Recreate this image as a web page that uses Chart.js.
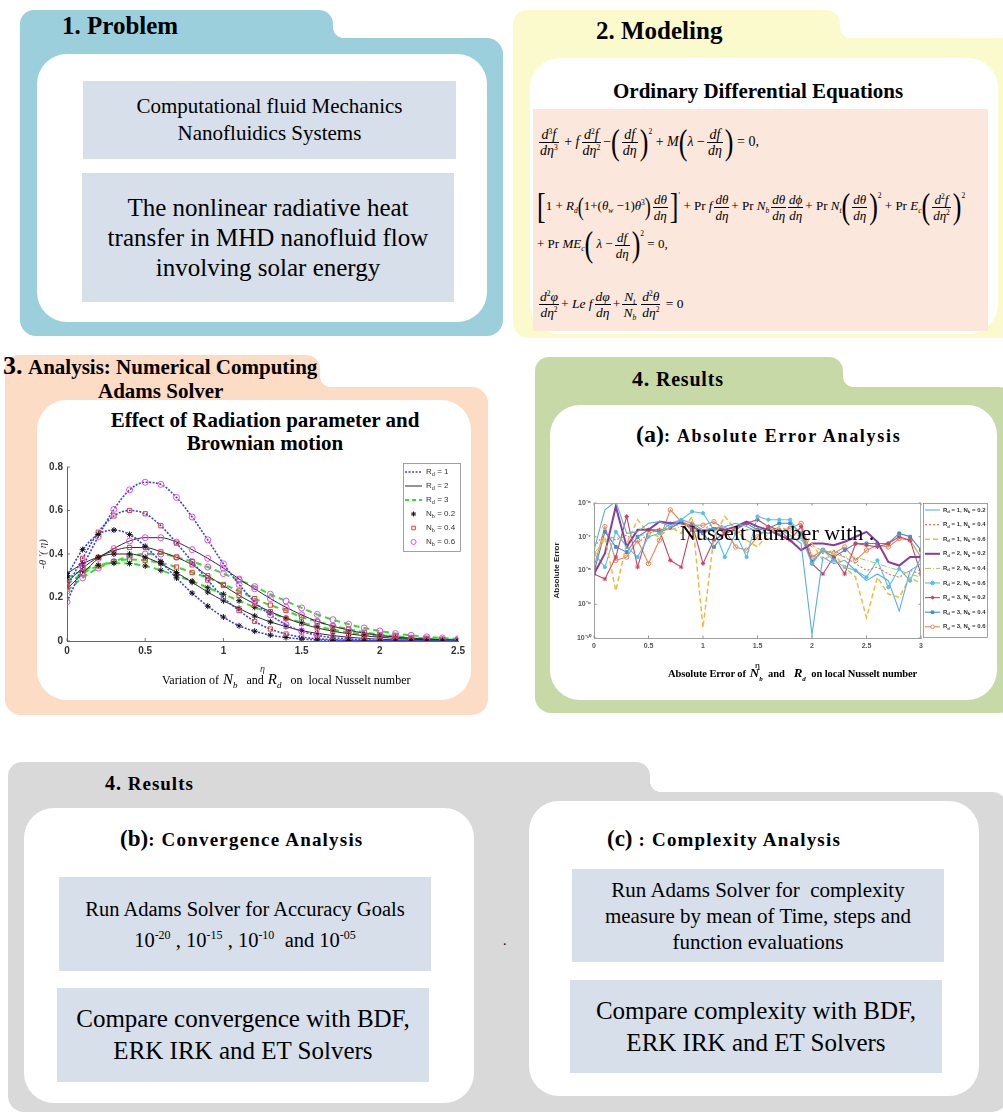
<!DOCTYPE html>
<html>
<head>
<meta charset="utf-8">
<script src="https://cdn.jsdelivr.net/npm/chart.js@4.4.1/dist/chart.umd.min.js"></script>
<style>
html,body{margin:0;padding:0}
body{width:1003px;height:1113px;position:relative;overflow:hidden;background:#fff;font-family:"Liberation Serif","Times New Roman",serif;color:#000}
.tab{position:absolute;border-radius:14px 14px 0 0}
.bd{position:absolute;border-radius:0 16px 16px 16px}
.fil{position:absolute;width:10px;height:10px}
.card{position:absolute;background:#fff;border-radius:30px}
.box{position:absolute;background:#D6DFEA;display:flex;align-items:center;justify-content:center;text-align:center}
.box>div{white-space:nowrap}
.h{position:absolute;font-weight:bold;white-space:nowrap;line-height:1.15}
.t{position:absolute;white-space:nowrap;line-height:1.15}
.eq{position:absolute;left:537px;height:44px;line-height:44px;font-size:13px;white-space:nowrap}
.fr{display:inline-block;vertical-align:middle;text-align:center;margin:0 2px;line-height:15px}
.fr>span{display:block;padding:0 1px}
.fr>span:first-child{border-bottom:0.9px solid #000}
.bp{display:inline-block;font-size:26px;transform:scaleY(1.35);vertical-align:middle;line-height:26px;font-weight:100}
.eq sup{font-size:7.5px;vertical-align:5px;line-height:0}
.eq sub{font-size:7.5px;vertical-align:-3px;line-height:0}
.eq .ex{vertical-align:12px}
.sym{display:inline-block;font-style:italic;padding:0 3px 0 4px}
canvas{position:absolute}
</style>
</head>
<body>

<!-- 1. Problem -->
<div class="tab" style="left:20px;top:10px;width:313px;height:40px;background:#9CCFDC"></div>
<div class="fil" style="left:333px;top:28px;background:radial-gradient(circle at 100% 0%,rgba(0,0,0,0) 9.5px,#9CCFDC 10px)"></div>
<div class="bd" style="left:20px;top:38px;width:483px;height:298px;background:#9CCFDC"></div>
<div class="card" style="left:37px;top:54px;width:450px;height:268px"></div>
<div class="h" style="left:62px;top:12px;font-size:25px">1. Problem</div>
<div class="box" style="left:83px;top:81px;width:373px;height:78px;font-size:21px;line-height:27px"><div>Computational fluid Mechanics<br>Nanofluidics Systems</div></div>
<div class="box" style="left:82px;top:173px;width:372px;height:129px;font-size:25px;line-height:30px"><div>The nonlinear radiative heat<br>transfer in MHD nanofluid flow<br>involving solar energy</div></div>

<!-- 2. Modeling -->
<div class="tab" style="left:513px;top:10px;width:327px;height:40px;background:#FAFACD"></div>
<div class="fil" style="left:840px;top:28px;background:radial-gradient(circle at 100% 0%,rgba(0,0,0,0) 9.5px,#FAFACD 10px)"></div>
<div class="bd" style="left:513px;top:38px;width:520px;height:300px;background:#FAFACD"></div>
<div class="card" style="left:530px;top:58px;width:468px;height:276px"></div>
<div class="h" style="left:596px;top:17px;font-size:25px">2. Modeling</div>
<div class="h" style="left:613px;top:79px;font-size:21px">Ordinary Differential Equations</div>
<div style="position:absolute;left:533px;top:109px;width:455px;height:222px;background:#FBE7DB"></div>

<div class="eq" style="top:120px;font-size:14px">
<span class="fr"><span><i>d</i><sup>3</sup><i>f</i></span><span><i>dη</i><sup>3</sup></span></span> + <i>f</i><span class="fr"><span><i>d</i><sup>2</sup><i>f</i></span><span><i>dη</i><sup>2</sup></span></span>&minus;<span class="bp">(</span><span class="fr"><span><i>df</i></span><span><i>dη</i></span></span><span class="bp">)</span><sup class="ex">2</sup> + <i>M</i><span class="bp">(</span><i>λ</i> &minus;<span class="fr"><span><i>df</i></span><span><i>dη</i></span></span><span class="bp">)</span> = 0,
</div>
<div class="eq" style="top:184px">
<span class="bp">[</span>1 + <i>R<sub>d</sub></i><span class="bp" style="font-size:18px">(</span>1+(<i>θ<sub>w</sub></i> &minus;1)<i>θ</i><sup>3</sup><span class="bp" style="font-size:18px">)</span><span class="fr"><span><i>dθ</i></span><span><i>dη</i></span></span><span class="bp">]</span><sup class="ex">′</sup> + Pr <i>f</i><span class="fr"><span><i>dθ</i></span><span><i>dη</i></span></span>+ Pr <i>N<sub>b</sub></i><span class="fr"><span><i>dθ</i></span><span><i>dη</i></span></span><span class="fr" style="margin-left:0"><span><i>dϕ</i></span><span><i>dη</i></span></span>+ Pr <i>N<sub>t</sub></i><span class="bp">(</span><span class="fr"><span><i>dθ</i></span><span><i>dη</i></span></span><span class="bp">)</span><sup class="ex">2</sup> + Pr <i>E<sub>c</sub></i><span class="bp">(</span><span class="fr"><span><i>d</i><sup>2</sup><i>f</i></span><span><i>dη</i><sup>2</sup></span></span><span class="bp">)</span><sup class="ex">2</sup>
</div>
<div class="eq" style="top:222px">
+ Pr <i>ME<sub>c</sub></i><span class="bp">(</span> <i>λ</i> &minus;<span class="fr"><span><i>df</i></span><span><i>dη</i></span></span><span class="bp">)</span><sup class="ex">2</sup> = 0,
</div>
<div class="eq" style="top:282px;font-size:13.5px">
<span class="fr"><span><i>d</i><sup>2</sup><i>φ</i></span><span><i>dη</i><sup>2</sup></span></span>+ <i>Le f</i><span class="fr"><span><i>dφ</i></span><span><i>dη</i></span></span>+<span class="fr"><span><i>N<sub>t</sub></i></span><span><i>N<sub>b</sub></i></span></span><span class="fr"><span><i>d</i><sup>2</sup><i>θ</i></span><span><i>dη</i><sup>2</sup></span></span> = 0
</div>

<!-- 3. Analysis -->
<div class="tab" style="left:5px;top:355px;width:315px;height:40px;background:#FCDCC4"></div>
<div class="fil" style="left:320px;top:377px;background:radial-gradient(circle at 100% 0%,rgba(0,0,0,0) 9.5px,#FCDCC4 10px)"></div>
<div class="bd" style="left:5px;top:387px;width:483px;height:328px;background:#FCDCC4"></div>
<div class="card" style="left:37px;top:400px;width:434px;height:300px"></div>
<div class="h" style="left:3px;top:351px;font-size:26px">3.</div>
<div class="h" style="left:28px;top:355px;font-size:21px">Analysis: Numerical Computing</div>
<div class="h" style="left:98px;top:379px;font-size:21px">Adams Solver</div>
<div class="h" style="left:37px;width:456px;text-align:center;top:408px;font-size:21px">Effect of Radiation parameter and</div>
<div class="h" style="left:37px;width:456px;text-align:center;top:431px;font-size:21px">Brownian motion</div>
<canvas id="nuChart" width="432" height="232" style="left:37px;top:455px"></canvas>
<div class="t" style="left:162px;top:671px;font-size:12px">Variation of<span class="sym" style="font-size:15px">N<sub style="font-size:9px">b</sub></span>&nbsp; and<span class="sym" style="font-size:15px">R<sub style="font-size:9px">d</sub></span>&nbsp; on &nbsp;local Nusselt number</div>

<!-- 4. Results (a) -->
<div class="tab" style="left:535px;top:357px;width:308px;height:40px;background:#C6D9A7"></div>
<div class="fil" style="left:843px;top:377px;background:radial-gradient(circle at 100% 0%,rgba(0,0,0,0) 9.5px,#C6D9A7 10px)"></div>
<div class="bd" style="left:535px;top:387px;width:480px;height:326px;background:#C6D9A7"></div>
<div class="card" style="left:550px;top:405px;width:447px;height:295px"></div>
<div class="h" style="left:632px;top:366px;font-size:20px;letter-spacing:0.8px"><span style="font-size:22px">4.</span> Results</div>
<div class="h" style="left:636px;top:421px;font-size:18px;letter-spacing:1.7px"><span style="font-size:24px;letter-spacing:0">(a)</span>: Absolute Error Analysis</div>
<canvas id="errChart" width="443" height="190" style="left:552px;top:495px"></canvas>
<div class="t" style="left:668px;top:666px;font-size:10.5px;font-weight:bold;letter-spacing:-0.1px">Absolute Error of<span class="sym" style="font-size:13px">N<sub style="font-size:7px">b</sub></span> and &nbsp;<span class="sym" style="font-size:13px">R<sub style="font-size:7px">d</sub></span> on local Nusselt number</div>
<div class="t" style="left:680px;top:520px;font-size:22px">Nusselt number with .</div>

<!-- 4. Results (b), (c) -->
<div class="tab" style="left:8px;top:762px;width:642px;height:40px;background:#D9D9D9"></div>
<div class="fil" style="left:650px;top:782px;background:radial-gradient(circle at 100% 0%,rgba(0,0,0,0) 9.5px,#D9D9D9 10px)"></div>
<div class="bd" style="left:8px;top:792px;width:1000px;height:320px;background:#D9D9D9"></div>
<div class="card" style="left:24px;top:808px;width:450px;height:295px"></div>
<div class="card" style="left:529px;top:801px;width:450px;height:295px"></div>
<div class="h" style="left:105px;top:772px;font-size:19px;letter-spacing:1px"><span style="font-size:20px">4.</span> Results</div>
<div class="h" style="left:120px;top:826px;font-size:19px;letter-spacing:1.2px"><span style="font-size:23px;letter-spacing:0">(b)</span>: Convergence Analysis</div>
<div class="h" style="left:607px;top:826px;font-size:19px;letter-spacing:1.2px"><span style="font-size:23px;letter-spacing:0">(c)</span> : Complexity Analysis</div>
<div class="box" style="left:59px;top:877px;width:372px;height:94px;font-size:20.5px;line-height:26px"><div>Run Adams Solver for Accuracy Goals<br>10<sup style="font-size:12px">-20</sup> , 10<sup style="font-size:12px">-15</sup> , 10<sup style="font-size:12px">-10</sup> &nbsp;and 10<sup style="font-size:12px">-05</sup></div></div>
<div class="box" style="left:57px;top:988px;width:372px;height:94px;font-size:25px;line-height:32px"><div>Compare convergence with BDF,<br>ERK IRK and ET Solvers</div></div>
<div class="box" style="left:572px;top:869px;width:372px;height:93px;font-size:21px;line-height:26px"><div>Run Adams Solver for &nbsp;complexity<br>measure by mean of Time, steps and<br>function evaluations</div></div>
<div class="box" style="left:570px;top:980px;width:372px;height:93px;font-size:25px;line-height:32px"><div>Compare complexity with BDF,<br>ERK IRK and ET Solvers</div></div>
<div class="t" style="left:503px;top:933px;font-size:14px">.</div>

<script>
// ---------- local Nusselt number profiles, -θ'(η) ----------
const etaGrid = [0,0.1,0.2,0.3,0.4,0.5,0.6,0.7,0.8,0.9,1,1.1,1.2,1.3,1.4,1.5,1.6,1.7,1.8,1.9,2,2.1,2.2,2.3,2.4,2.5];
const rd1Nb02 = [0.30,0.42,0.49,0.51,0.49,0.435,0.365,0.29,0.22,0.16,0.11,0.07,0.045,0.027,0.016,0.009,0.005,0.003,0.002,0.001,0.001,0,0,0,0,0];
const rd1Nb04 = [0.25,0.38,0.50,0.575,0.60,0.585,0.53,0.45,0.365,0.28,0.20,0.14,0.09,0.055,0.032,0.018,0.010,0.006,0.003,0.002,0.001,0.001,0,0,0,0];
const rd1Nb06 = [0.18,0.34,0.48,0.605,0.695,0.73,0.72,0.66,0.57,0.465,0.355,0.26,0.18,0.12,0.075,0.045,0.026,0.015,0.009,0.005,0.003,0.002,0.001,0,0,0];
const rd2Nb02 = [0.31,0.355,0.385,0.40,0.40,0.385,0.355,0.315,0.27,0.225,0.185,0.15,0.115,0.088,0.066,0.048,0.035,0.025,0.017,0.012,0.008,0.005,0.004,0.003,0.002,0.001];
const rd2Nb04 = [0.27,0.335,0.385,0.415,0.43,0.43,0.41,0.385,0.35,0.30,0.255,0.21,0.17,0.135,0.105,0.08,0.06,0.045,0.033,0.024,0.017,0.012,0.008,0.006,0.004,0.003];
const rd2Nb06 = [0.24,0.31,0.38,0.425,0.46,0.475,0.475,0.455,0.42,0.38,0.335,0.285,0.24,0.195,0.155,0.12,0.09,0.068,0.05,0.036,0.026,0.018,0.013,0.009,0.006,0.004];
const rd3Nb02 = [0.29,0.325,0.348,0.358,0.356,0.345,0.325,0.30,0.275,0.245,0.215,0.185,0.155,0.13,0.105,0.085,0.067,0.052,0.04,0.03,0.023,0.017,0.012,0.009,0.006,0.004];
const rd3Nb04 = [0.26,0.31,0.345,0.365,0.375,0.37,0.36,0.34,0.315,0.29,0.26,0.23,0.195,0.165,0.14,0.11,0.09,0.07,0.055,0.04,0.03,0.022,0.016,0.012,0.008,0.006];
const rd3Nb06 = [0.23,0.29,0.335,0.365,0.39,0.40,0.40,0.385,0.365,0.34,0.31,0.28,0.25,0.215,0.184,0.152,0.122,0.098,0.077,0.06,0.046,0.034,0.026,0.019,0.014,0.010];
const nuXTicks = [0,0.5,1,1.5,2,2.5];
const nuXTickLabels = ['0','0.5','1','1.5','2','2.5'];
const nuYTicks = [0,0.2,0.4,0.6,0.8];
const nuYTickLabels = ['0','0.2','0.4','0.6','0.8'];
const nuLegendLabels = ['R_d = 1','R_d = 2','R_d = 3','N_b = 0.2','N_b = 0.4','N_b = 0.6'];

// ---------- absolute error of the Adams solution ----------
const errGrid = [0,0.1,0.2,0.3,0.4,0.5,0.6,0.7,0.8,0.9,1,1.1,1.2,1.3,1.4,1.5,1.6,1.7,1.8,1.9,2,2.1,2.2,2.3,2.4,2.5,2.6,2.7,2.8,2.9,3];
const errRd1Nb02 = [4.0e-8,6.3e-7,1.12e-6,1.26e-7,1.4e-7,2.5e-7,2.8e-7,2.0e-7,3.2e-7,2.5e-7,1.6e-7,1.8e-7,2.0e-7,2.5e-7,2.0e-7,1.4e-7,1.26e-7,1.6e-7,1.12e-7,6.3e-8,1.26e-10,2.5e-8,1.6e-8,2.0e-8,1.0e-8,5.0e-9,7.9e-9,5.0e-9,6.3e-10,1.0e-8,1.6e-8];
const errRd1Nb04 = [5.0e-8,1.26e-7,7.9e-8,1.12e-7,6.3e-8,1.26e-7,1.6e-7,1.8e-7,2.5e-7,2.0e-7,1.6e-7,2.5e-7,2.0e-7,1.26e-7,1.6e-7,1.8e-7,2.0e-7,1.4e-7,2.0e-7,1.26e-7,2.5e-8,3.2e-8,4.0e-8,2.5e-8,1.6e-8,1.0e-8,1.26e-8,7.9e-9,6.3e-9,1.0e-8,7.9e-9];
const errRd1Nb06 = [2.5e-8,1.0e-7,2.5e-9,6.3e-8,3.2e-7,1.26e-7,1.0e-7,2.0e-7,1.26e-7,4.0e-7,2.0e-10,1.0e-7,4.0e-7,1.6e-7,7.9e-8,5.0e-8,1.26e-7,2.0e-7,1.4e-7,1.0e-7,6.3e-8,2.0e-8,3.2e-8,1.26e-8,6.3e-9,4.0e-10,6.3e-9,2.0e-9,1.6e-9,6.3e-9,4.0e-9];
const errRd2Nb02 = [7.9e-9,3.2e-8,7.9e-7,5.0e-8,1.6e-7,1.6e-7,2.8e-7,2.5e-7,2.5e-7,2.0e-7,1.4e-7,1.8e-7,1.6e-7,2.0e-7,2.8e-7,2.0e-7,1.6e-7,1.12e-7,7.9e-8,4.0e-8,6.3e-8,6.3e-8,5.6e-8,7.1e-8,1.0e-7,1.4e-7,7.1e-8,1.8e-8,1.4e-8,2.5e-8,2.5e-8];
const errRd2Nb04 = [3.2e-8,7.9e-8,1.0e-7,6.3e-8,1.0e-7,1.26e-7,1.6e-7,1.6e-7,2.0e-7,1.6e-7,1.26e-7,1.6e-7,1.6e-7,1.26e-7,1.6e-7,1.6e-7,1.26e-7,1.26e-7,1.0e-7,7.9e-8,5.0e-8,4.0e-8,3.2e-8,2.5e-8,2.5e-8,2.0e-8,1.6e-8,1.26e-8,1.0e-8,7.9e-9,6.3e-9];
const errRd2Nb06 = [3.2e-8,1.26e-8,1.4e-7,5.0e-8,2.5e-8,1.0e-7,1.26e-7,2.5e-7,3.2e-7,5.6e-7,5.0e-7,1.6e-7,2.5e-8,1.26e-7,2.5e-8,4.0e-7,3.2e-7,3.2e-7,3.2e-7,1.0e-7,1.6e-8,4.0e-8,2.0e-8,1.26e-8,1.0e-8,6.3e-9,2.0e-8,3.2e-9,1.12e-8,5.0e-9,2.5e-8];
const errRd3Nb02 = [7.9e-9,5.6e-9,2.5e-8,4.0e-7,1.26e-8,1.6e-7,1.6e-7,2.0e-8,1.26e-8,2.5e-7,1.6e-8,7.9e-8,1.26e-7,1.6e-7,2.5e-7,3.2e-7,2.0e-7,1.6e-7,7.9e-8,2.0e-7,1.6e-8,7.9e-9,2.5e-8,7.9e-9,6.3e-8,5.6e-8,5.0e-8,6.3e-8,1.0e-7,7.9e-8,7.9e-9];
const errRd3Nb04 = [8.9e-9,1.4e-7,5.0e-8,3.5e-8,1.0e-7,1.6e-7,1.4e-7,1.8e-7,2.8e-7,1.6e-7,1.26e-7,5.0e-8,1.26e-7,1.8e-7,2.5e-7,1.6e-7,1.8e-7,2.5e-7,2.5e-7,1.26e-7,1.8e-8,4.0e-8,2.5e-8,4.0e-8,6.3e-8,6.3e-8,6.3e-8,6.3e-8,1.26e-7,1.0e-7,4.0e-8];
const errRd3Nb06 = [1.26e-8,2.0e-7,2.0e-8,2.5e-8,7.9e-8,1.6e-8,7.9e-8,6.3e-7,2.8e-7,2.2e-7,2.2e-7,2.8e-7,1.6e-7,5.0e-8,4.0e-8,1.0e-7,1.8e-7,1.4e-7,1.8e-7,2.5e-7,2.5e-8,4.0e-8,3.2e-8,5.0e-8,2.0e-8,4.0e-8,5.6e-8,5.0e-8,8.9e-8,7.9e-8,2.5e-8];
const errXTicks = [0,0.5,1,1.5,2,2.5,3];
const errXTickLabels = ['0','0.5','1','1.5','2','2.5','3'];
const errYTicks = [1e-10,1e-9,1e-8,1e-7,1e-6];
const errYTickLabels = ['10\u207B\u00B9\u2070','10\u207B\u2079','10\u207B\u2078','10\u207B\u2077','10\u207B\u2076'];
const errLegendLabels = ['R_d = 1, N_b = 0.2','R_d = 1, N_b = 0.4','R_d = 1, N_b = 0.6','R_d = 2, N_b = 0.2','R_d = 2, N_b = 0.4','R_d = 2, N_b = 0.6','R_d = 3, N_b = 0.2','R_d = 3, N_b = 0.4','R_d = 3, N_b = 0.6'];

const SANS = '"Liberation Sans", Arial, sans-serif';
const SERIF = '"Liberation Serif", "Times New Roman", serif';

// text with single-character subscripts written as _x
function drawSubText(ctx, str, x, y, size, weight) {
  const parts = str.split('_');
  let cx = x;
  parts.forEach((p, i) => {
    let body = p;
    if (i > 0) {
      ctx.font = `${weight} ${size * 0.7}px ${SANS}`;
      ctx.fillText(p[0], cx, y + size * 0.3);
      cx += ctx.measureText(p[0]).width;
      body = p.slice(1);
    }
    ctx.font = `${weight} ${size}px ${SANS}`;
    ctx.fillText(body, cx, y);
    cx += ctx.measureText(body).width;
  });
}

function pts(xs, ys) { return xs.map((x, i) => ({ x, y: ys[i] })); }

// short ticks pointing into the plot area
const innerTicks = {
  id: 'innerTicks',
  afterDraw(chart, args, o) {
    const { ctx, chartArea: a, scales } = chart;
    ctx.save();
    ctx.strokeStyle = o.color; ctx.lineWidth = 0.8;
    ctx.beginPath();
    scales.x.ticks.forEach(t => { const px = scales.x.getPixelForValue(t.value); ctx.moveTo(px, a.bottom); ctx.lineTo(px, a.bottom - o.len); if (o.box) { ctx.moveTo(px, a.top); ctx.lineTo(px, a.top + o.len); } });
    scales.y.ticks.forEach(t => { const py = scales.y.getPixelForValue(t.value); ctx.moveTo(a.left, py); ctx.lineTo(a.left + o.len, py); if (o.box) { ctx.moveTo(a.right, py); ctx.lineTo(a.right - o.len, py); } });
    ctx.stroke();
    if (o.box) { ctx.strokeStyle = o.boxColor; ctx.strokeRect(a.left + 0.5, a.top + 0.5, a.width - 1, a.height); }
    ctx.restore();
  }
};

// boxed legend drawn at a fixed place beside / inside the plot
const boxLegend = {
  id: 'boxLegend',
  afterDraw(chart, args, o) {
    const { ctx, chartArea: a } = chart;
    const x0 = a.right + o.dx, y0 = a.top + o.dy;
    ctx.save();
    ctx.fillStyle = '#fff'; ctx.fillRect(x0, y0, o.w, o.h);
    ctx.strokeStyle = '#8a8a8a'; ctx.lineWidth = 0.8; ctx.strokeRect(x0 + 0.5, y0 + 0.5, o.w, o.h);
    o.items.forEach((it, i) => {
      const yy = y0 + o.first + i * o.step;
      if (it.line) {
        ctx.strokeStyle = it.color; ctx.lineWidth = it.width; ctx.setLineDash(it.dash || []);
        ctx.beginPath(); ctx.moveTo(x0 + 2, yy); ctx.lineTo(x0 + 2 + o.sample, yy); ctx.stroke();
        ctx.setLineDash([]);
      }
      if (it.marker) {
        ctx.strokeStyle = it.mColor; ctx.fillStyle = it.mFill || 'rgba(0,0,0,0)'; ctx.lineWidth = 1;
        Chart.helpers.drawPoint(ctx, { pointStyle: it.marker, radius: it.radius, borderWidth: 1 }, x0 + 2 + o.sample / 2, yy);
      }
      ctx.fillStyle = '#333'; ctx.textBaseline = 'middle';
      drawSubText(ctx, it.label, x0 + 4 + o.sample + o.gap, yy, o.size, o.weight);
    });
    ctx.restore();
  }
};

// ---- chart: -θ'(η) ----
const rdStyle = [
  { color: '#3c3cf2', dash: [2, 1.5], width: 1.6 },
  { color: '#2b2b2b', dash: [], width: 1 },
  { color: '#33dd33', dash: [6, 4], width: 2 }
];
const nbStyle = [
  { marker: 'star', color: '#111111', radius: 3 },
  { marker: 'rect', color: '#e83c3c', radius: 3 },
  { marker: 'circle', color: '#e64de6', radius: 3 }
];
const nuSeries = [[rd1Nb02, rd1Nb04, rd1Nb06], [rd2Nb02, rd2Nb04, rd2Nb06], [rd3Nb02, rd3Nb04, rd3Nb06]];
const nuSets = [];
nuSeries.forEach((row, r) => row.forEach((vals, n) => nuSets.push({
  data: pts(etaGrid, vals),
  borderColor: rdStyle[r].color, borderDash: rdStyle[r].dash, borderWidth: rdStyle[r].width,
  pointStyle: nbStyle[n].marker, pointRadius: nbStyle[n].radius, pointBorderColor: nbStyle[n].color,
  pointBackgroundColor: 'rgba(0,0,0,0)', pointBorderWidth: 1,
  cubicInterpolationMode: 'monotone', fill: false
})));

new Chart(document.getElementById('nuChart'), {
  type: 'line',
  data: { datasets: nuSets },
  options: {
    responsive: false, animation: false, devicePixelRatio: 1,
    layout: { padding: { left: 0, right: 10, top: 12, bottom: 0 } },
    plugins: {
      legend: { display: false }, tooltip: { enabled: false },
      innerTicks: { color: '#555', len: 3, box: false },
      boxLegend: {
        dx: -55, dy: -4, w: 57, h: 88, first: 9, step: 14, sample: 17, gap: 2, size: 8, weight: 'normal',
        items: [
          { label: nuLegendLabels[0], line: true, color: rdStyle[0].color, dash: rdStyle[0].dash, width: 1.6 },
          { label: nuLegendLabels[1], line: true, color: rdStyle[1].color, width: 1 },
          { label: nuLegendLabels[2], line: true, color: rdStyle[2].color, dash: [4, 3], width: 2 },
          { label: nuLegendLabels[3], marker: 'star', mColor: nbStyle[0].color, radius: 2.5 },
          { label: nuLegendLabels[4], marker: 'rect', mColor: nbStyle[1].color, radius: 2.5 },
          { label: nuLegendLabels[5], marker: 'circle', mColor: nbStyle[2].color, radius: 2.5 }
        ]
      }
    },
    scales: {
      x: {
        type: 'linear', min: 0, max: 2.5,
        afterBuildTicks: s => { s.ticks = nuXTicks.map(v => ({ value: v })); },
        ticks: { callback: v => nuXTickLabels[nuXTicks.indexOf(v)], font: { family: SANS, size: 10, weight: 'bold' }, color: '#333', padding: 4, maxRotation: 0 },
        grid: { display: false, drawTicks: false },
        border: { color: '#666', width: 1 },
        title: { display: true, text: 'η', font: { family: SERIF, size: 10, style: 'italic' }, color: '#333', padding: { top: 3, bottom: 12 } },
        afterFit: s => { s.height = 46; }
      },
      y: {
        min: 0, max: 0.8,
        afterBuildTicks: s => { s.ticks = nuYTicks.map(v => ({ value: v })); },
        ticks: { callback: v => nuYTickLabels[nuYTicks.indexOf(v)], font: { family: SANS, size: 10, weight: 'bold' }, color: '#333', padding: 4 },
        grid: { display: false, drawTicks: false },
        border: { color: '#666', width: 1 },
        title: { display: true, text: "-θ ′( η)", font: { family: SERIF, size: 11, style: 'italic' }, color: '#333', padding: 0 },
        afterFit: s => { s.width = 30; }
      }
    }
  },
  plugins: [innerTicks, boxLegend]
});

// ---- chart: absolute error ----
const errSeries = [errRd1Nb02, errRd1Nb04, errRd1Nb06, errRd2Nb02, errRd2Nb04, errRd2Nb06, errRd3Nb02, errRd3Nb04, errRd3Nb06];
const errStyle = [
  { color: '#5aaee6', dash: [], width: 1.1, marker: false },
  { color: '#e8734f', dash: [2, 2], width: 1.1, marker: false },
  { color: '#f4b83a', dash: [5, 3], width: 1.5, marker: false },
  { color: '#8b3a9e', dash: [], width: 2, marker: false },
  { color: '#9bcb6b', dash: [6, 2, 1, 2], width: 1, marker: false },
  { color: '#4fc1ef', dash: [], width: 1.1, marker: 'circle', r: 1.6, fill: true },
  { color: '#c8435e', dash: [], width: 1.1, marker: 'star', r: 2.2, fill: false },
  { color: '#3b8fd4', dash: [], width: 1.1, marker: 'rect', r: 2, fill: true },
  { color: '#eb8455', dash: [], width: 1.1, marker: 'circle', r: 2.2, fill: false }
];
const errSets = errSeries.map((vals, i) => ({
  data: pts(errGrid, vals),
  borderColor: errStyle[i].color, borderDash: errStyle[i].dash, borderWidth: errStyle[i].width,
  pointStyle: errStyle[i].marker || 'circle', pointRadius: errStyle[i].marker ? errStyle[i].r : 0,
  pointBorderColor: errStyle[i].color, pointBorderWidth: 1,
  pointBackgroundColor: errStyle[i].fill ? errStyle[i].color : 'rgba(255,255,255,0)',
  tension: 0, fill: false
}));

new Chart(document.getElementById('errChart'), {
  type: 'line',
  data: { datasets: errSets },
  options: {
    responsive: false, animation: false, devicePixelRatio: 1,
    layout: { padding: { left: 0, right: 74, top: 8, bottom: 0 } },
    plugins: {
      legend: { display: false }, tooltip: { enabled: false },
      innerTicks: { color: '#777', len: 2.5, box: true, boxColor: '#a0a0a0' },
      boxLegend: {
        dx: 2, dy: 0, w: 64, h: 134, first: 7, step: 14.6, sample: 15, gap: 1, size: 6, weight: 'bold',
        items: errStyle.map((s, i) => ({
          label: errLegendLabels[i], line: true, color: s.color, dash: s.dash, width: s.width,
          marker: s.marker || null, mColor: s.color, mFill: s.fill ? s.color : '#fff', radius: s.marker ? 1.8 : 0
        }))
      }
    },
    scales: {
      x: {
        type: 'linear', min: 0, max: 3,
        afterBuildTicks: s => { s.ticks = errXTicks.map(v => ({ value: v })); },
        ticks: { callback: v => errXTickLabels[errXTicks.indexOf(v)], font: { family: SANS, size: 7, weight: 'bold' }, color: '#555', padding: 4, maxRotation: 0 },
        grid: { display: false, drawTicks: false },
        border: { color: '#a0a0a0', width: 1 },
        title: { display: true, text: 'η', font: { family: SANS, size: 8, weight: 'bold' }, color: '#333', padding: { top: 2, bottom: 14 } },
        afterFit: s => { s.height = 47; }
      },
      y: {
        type: 'logarithmic', min: 1e-10, max: 1e-6,
        afterBuildTicks: s => { s.ticks = errYTicks.map(v => ({ value: v })); },
        ticks: { callback: v => errYTickLabels[errYTicks.findIndex(t => Math.abs(Math.log10(t) - Math.log10(v)) < 1e-6)], font: { family: SANS, size: 7, weight: 'bold' }, color: '#555', padding: 3 },
        grid: { display: false, drawTicks: false },
        border: { color: '#a0a0a0', width: 1 },
        title: { display: true, text: 'Absolute Error', font: { family: SANS, size: 8, weight: 'bold' }, color: '#222', padding: 0 },
        afterFit: s => { s.width = 42; }
      }
    }
  },
  plugins: [innerTicks, boxLegend]
});
</script>
</body>
</html>
